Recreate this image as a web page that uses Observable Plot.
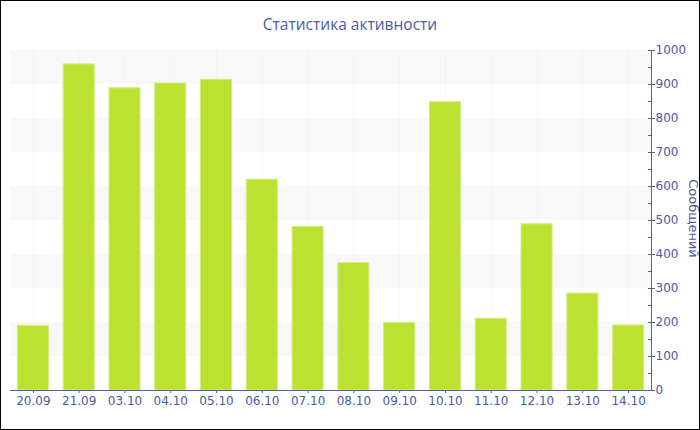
<!DOCTYPE html>
<html>
<head>
<meta charset="utf-8">
<script src="https://cdn.jsdelivr.net/npm/d3@7"></script>
<script src="https://cdn.jsdelivr.net/npm/@observablehq/plot@0.6"></script>
<style>
  html, body { margin: 0; padding: 0; background: #fff; }
  #wrap { position: relative; width: 700px; height: 430px; overflow: hidden; background: #fff; }
  #border { position: absolute; left: 0; top: 0; width: 700px; height: 430px; box-sizing: border-box; border: 1px solid #000; pointer-events: none; }
  #title { position: absolute; left: 0; top: 14px; width: 700px; text-align: center; font-family: "Open Sans", sans-serif; font-size: 15.5px; color: #4a5ca6; line-height: 20px; }
  #chart { position: absolute; left: 0; top: 0; }
</style>
</head>
<body>
<div id="wrap">
  <div id="chart"></div>
  <div id="title">Статистика активности</div>
  <div id="border"></div>
</div>
<script>
const dates = ["20.09","21.09","03.10","04.10","05.10","06.10","07.10","08.10","09.10","10.10","11.10","12.10","13.10","14.10"];
const messages = [190, 959, 889, 903, 914, 620, 481, 375, 199, 848, 211, 489, 285, 191];
const bandStarts = [100, 300, 500, 700, 900];
const majorTicks = [0,100,200,300,400,500,600,700,800,900,1000];
const minorTicks = [0,50,100,150,200,250,300,350,400,450,500,550,600,650,700,750,800,850,900,950,1000];
const yLabel = "Сообщений";

const data = dates.map((d, i) => ({date: d, value: messages[i]}));
const axisColor = "#4f62a8";
const textColor = "#4a5aa0";

const chart = Plot.plot({
  width: 700,
  height: 430,
  marginLeft: 10,
  marginRight: 49,
  marginTop: 50,
  marginBottom: 40,
  style: {fontFamily: "DejaVu Sans, sans-serif", fontSize: "12px", color: textColor, background: "transparent"},
  x: {type: "band", domain: dates, paddingInner: 0.3, paddingOuter: 0.15, round: false, label: null},
  y: {domain: [0, 1000], label: null},
  marks: [
    Plot.rectY(bandStarts, {y1: d => d, y2: d => d + 100, fill: "#f8f8f8"}),
    Plot.gridX({stroke: "#000", strokeOpacity: 0.025}),
    Plot.barY(data, {x: "date", y: "value", fill: "#bce131", stroke: "#d3ec84", strokeWidth: 1, insetLeft: 0.5, insetRight: 0.5}),
    Plot.axisX({anchor: "bottom", tickSize: 3, tickPadding: 3, stroke: axisColor, color: textColor, fontSize: 12, label: null}),
    Plot.axisY({anchor: "right", ticks: majorTicks, tickFormat: "d", tickSize: 3, tickPadding: 1, stroke: axisColor, color: textColor, fontSize: 12, label: null}),
    Plot.axisY({anchor: "right", ticks: minorTicks, tickSize: -4, text: null, stroke: axisColor, label: null}),
    Plot.frame({anchor: "right", stroke: axisColor}),
    Plot.frame({anchor: "bottom", stroke: axisColor}),
    Plot.text([yLabel], {frameAnchor: "right", textAnchor: "middle", dx: 42, dy: -2, rotate: 90, text: d => d, fill: textColor, fontSize: 13})
  ]
});
document.getElementById("chart").appendChild(chart);
</script>
</body>
</html>
